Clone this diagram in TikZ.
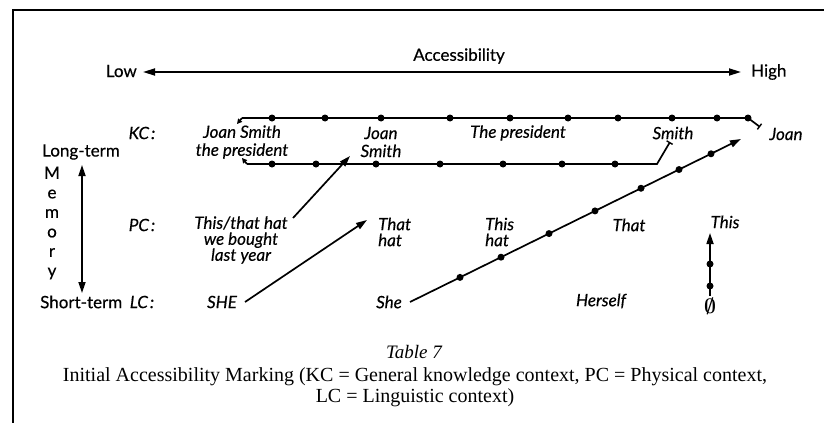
\documentclass[tikz,border=0pt]{standalone}
\usepackage{fontspec}
\setmainfont{Liberation Serif}
\newfontfamily\labfont{Lato}[FakeBold=0.4]
\usetikzlibrary{arrows.meta}
\tikzset{
  hd/.style={font=\labfont\fontsize{17}{20}\selectfont, inner sep=0pt},
  lbl/.style={font=\labfont\itshape\fontsize{17}{18}\selectfont, inner sep=0pt},
  captxt/.style={font=\fontsize{20}{21}\selectfont, inner sep=0pt},
  ln/.style={line width=1.7pt},
  arrtip/.style={-{Triangle[length=11pt,width=7pt]}},
  smalltip/.style={-{Triangle[length=5pt,width=5pt]}},
  teestart/.style={{Bar[width=7pt,line width=1.4pt]}-},
  dotfill/.style={fill=black},
}
\begin{document}
\begin{tikzpicture}[x=1pt,y=-1pt]
\useasboundingbox (0,0) rectangle (824,423);
% frame
\draw[line width=1.7pt] (824,10) -- (13,10) -- (13,423);

% accessibility axis
\node[hd] (acc) at (459,56) {Accessibility};
\node[hd, anchor=east] (low) at (137,71) {Low};
\node[hd, anchor=west] (high) at (751,72) {High};
\coordinate (axl) at (143,72);
\coordinate (axr) at (741,72);
\draw[line width=1.7pt, {Triangle[length=12pt,width=7pt]}-{Triangle[length=12pt,width=7pt]}] (axl) -- (axr);

% row labels
\node[lbl] (kc) at (142,133) {KC\hspace{2pt}:};
\node[hd] (lt) at (81,152) {Long-term};
\node[hd, align=center, font=\labfont\fontsize{17}{19.5}\selectfont] (mem) at (52,223) {M\\e\\m\\o\\r\\y};
\coordinate (memtop) at (82,165);
\coordinate (membot) at (82,293);
\draw[line width=1.7pt, {Triangle[length=11pt,width=7pt]}-{Triangle[length=11pt,width=7pt]}] (memtop) -- (membot);
\node[lbl] (pc) at (142,225) {PC\hspace{2pt}:};
\node[hd, anchor=west] (st) at (40,302) {Short-term};
\node[lbl] (lc) at (142,302) {LC\hspace{2pt}:};

% KC texts
\node[lbl, align=center] (jsp) at (242,142) {Joan Smith\\the president};
\node[lbl, align=center] (js) at (381,142) {Joan\\Smith};
\node[lbl] (tp) at (518,133) {The president};
\node[lbl] (sm) at (673,133) {Smith};
\node[lbl] (jo) at (786,134) {Joan};

% PC texts
\node[lbl, align=center, font=\labfont\itshape\fontsize{17}{16}\selectfont] (tthat) at (241,240) {This/that hat\\we bought\\last year};
\node[lbl, align=left, anchor=west, font=\labfont\itshape\fontsize{17}{16}\selectfont] (thath) at (378,232) {That\\hat};
\node[lbl, align=left, anchor=west, font=\labfont\itshape\fontsize{17}{16}\selectfont] (thish) at (485,232) {This\\hat};
\node[lbl] (that) at (629,225) {That};
\node[lbl] (this) at (725,222) {This};

% LC texts
\node[lbl] (she1) at (222,302) {SHE};
\node[lbl] (she2) at (389,302) {She};
\node[lbl] (hers) at (601,301) {Herself};
\node[inner sep=0pt, font=\boldmath\fontsize{20}{22}\selectfont] (zero) at (710,306) {$\emptyset$};

% caption
\node[captxt, font=\itshape\fontsize{19}{21}\selectfont] (tab) at (414,352) {Table 7};
\node[captxt, align=center] (capt) at (415,387) {Initial Accessibility Marking (KC = General knowledge context, PC = Physical context,\\LC = Linguistic context)};

% KC upper line
\coordinate (ua) at (760,127);
\coordinate (ub) at (748,118);
\coordinate (uc) at (242,118);
\coordinate (ud) at (237,124);
\draw[ln, teestart] (ua) -- (ub) -- (uc);
\draw[ln, smalltip] (uc) -- (ud);
\foreach \x in {272,325,381,450,510,568,618,672,717,748}
  \fill[dotfill] (\x,118) circle (3.5pt);

% KC lower line
\coordinate (la) at (670,142);
\coordinate (lb) at (657,164);
\coordinate (lcn) at (247,164);
\coordinate (ld) at (242,158);
\draw[ln, teestart] (la) -- (lb) -- (lcn);
\draw[ln, smalltip] (lcn) -- (ld);
\foreach \x in {272,316,376,440,503,562,615}
  \fill[dotfill] (\x,164) circle (3.5pt);

% PC -> KC arrow
\coordinate (p1s) at (293,218);
\coordinate (p1e) at (350,156);
\draw[ln, teestart, arrtip] (p1s) -- (p1e);

% SHE -> That hat
\coordinate (s1s) at (245,302);
\coordinate (s1e) at (367,220);
\draw[ln, teestart, arrtip] (s1s) -- (s1e);

% She -> Joan
\coordinate (s2s) at (410,302);
\coordinate (s2e) at (741,139);
\draw[ln, teestart, arrtip] (s2s) -- (s2e);
\foreach \x in {460,501,549,595,641,679,711}
  \fill[dotfill] (\x,{302-(\x-410)*0.4924}) circle (3.5pt);

% zero -> This
\coordinate (zs) at (710,296);
\coordinate (ze) at (710,233);
\draw[ln, teestart, arrtip] (zs) -- (ze);
\fill[dotfill] (710,264) circle (3.5pt);
\fill[dotfill] (710,286) circle (3.5pt);
\end{tikzpicture}
\end{document}
